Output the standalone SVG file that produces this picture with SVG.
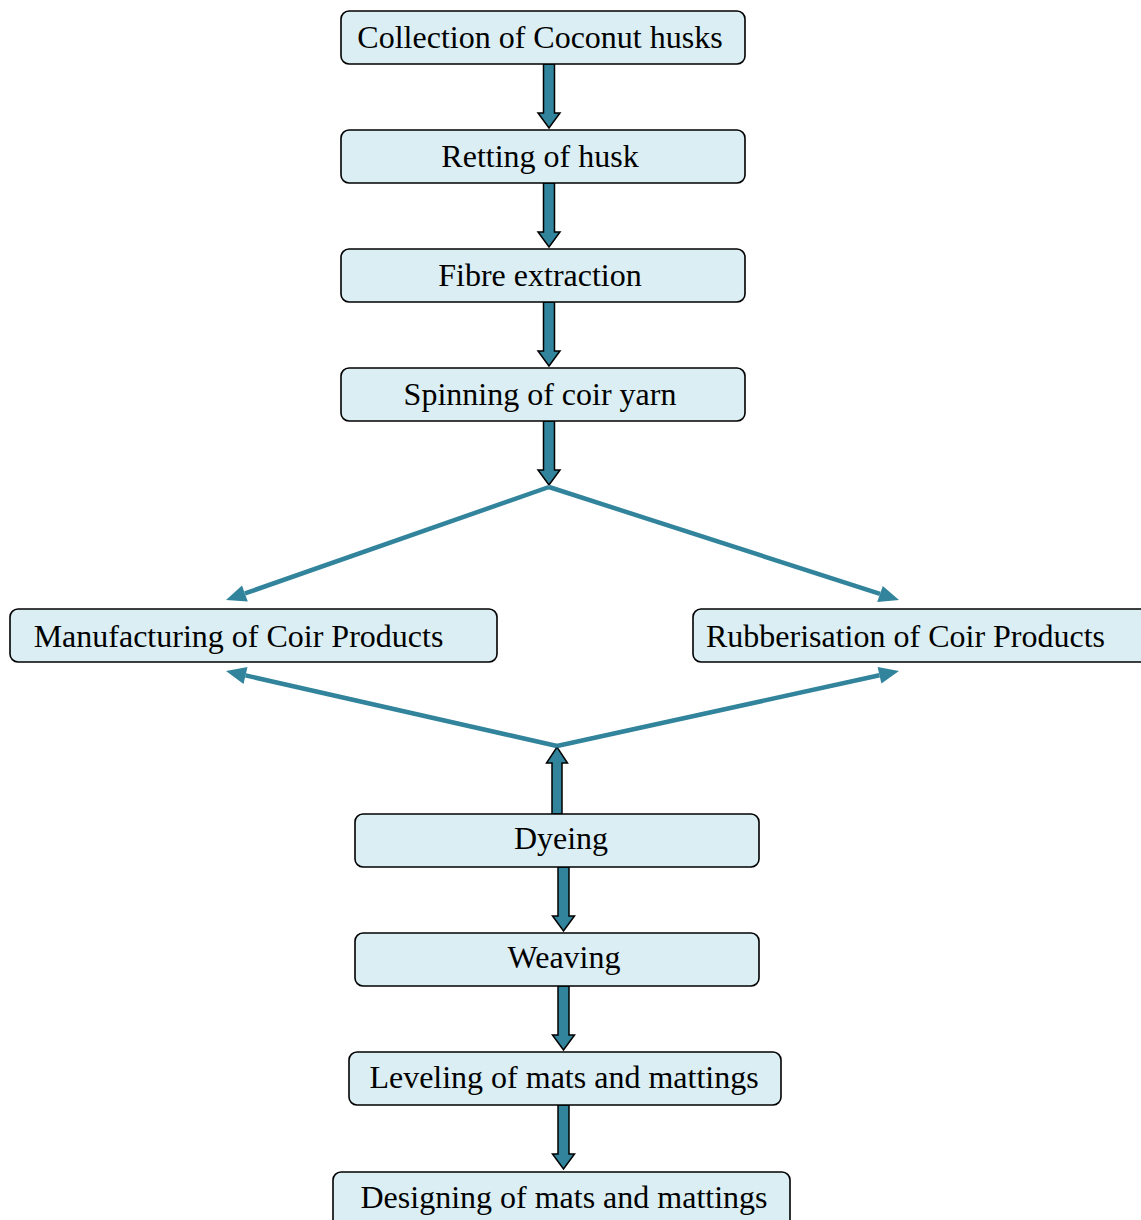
<svg xmlns="http://www.w3.org/2000/svg" width="1141" height="1220" viewBox="0 0 1141 1220">
<style>
.box{fill:#DAEEF3;stroke:#000;stroke-width:1.6}
.t{font-family:"Liberation Serif","Times New Roman",serif;font-size:32px;fill:#000;text-anchor:middle}
.blk{fill:#31849B;stroke:#000;stroke-width:1.5;stroke-linejoin:miter}
.ln{stroke:#31849B;stroke-width:4.5;fill:none}
.hd{fill:#31849B}
</style>
<rect width="1141" height="1220" fill="#fff"/>
<g id="connectors">
<path class="blk" d="M543.5,64 H554.5 V113 H560 L549,128 L538,113 H543.5 Z"/>
<path class="blk" d="M543.5,183 H554.5 V232 H560 L549,247 L538,232 H543.5 Z"/>
<path class="blk" d="M543.5,302 H554.5 V351 H560 L549,366 L538,351 H543.5 Z"/>
<path class="blk" d="M543.5,421 H554.5 V470 H560 L549,485 L538,470 H543.5 Z"/>
<line class="ln" x1="549" y1="487" x2="245" y2="593.4"/>
<polygon class="hd" points="226,600 247.8,601.5 242,585.5"/>
<line class="ln" x1="549" y1="487" x2="880" y2="593.9"/>
<polygon class="hd" points="899,600 877.2,602 882.8,586"/>
<path class="blk" d="M552,814 V763 H546.5 L557,747 L567.5,763 H562 V814 Z"/>
<line class="ln" x1="557" y1="746" x2="245.5" y2="675.4"/>
<polygon class="hd" points="226,671 247.5,667 243.5,684"/>
<line class="ln" x1="557" y1="746" x2="879.5" y2="675.3"/>
<polygon class="hd" points="899,671 881.4,683.6 877.6,667"/>
<path class="blk" d="M558,867 H569 V916 H574.5 L563.5,931 L552.5,916 H558 Z"/>
<path class="blk" d="M558,986 H569 V1035 H574.5 L563.5,1050 L552.5,1035 H558 Z"/>
<path class="blk" d="M558,1105 H569 V1154 H574.5 L563.5,1169 L552.5,1154 H558 Z"/>
</g>
<g id="n1"><rect class="box" x="341" y="11" width="404" height="53" rx="8"/><text class="t" x="540" y="48">Collection of Coconut husks</text></g>
<g id="n2"><rect class="box" x="341" y="130" width="404" height="53" rx="8"/><text class="t" x="540" y="167">Retting of husk</text></g>
<g id="n3"><rect class="box" x="341" y="249" width="404" height="53" rx="8"/><text class="t" x="540" y="286">Fibre extraction</text></g>
<g id="n4"><rect class="box" x="341" y="368" width="404" height="53" rx="8"/><text class="t" x="540" y="405">Spinning of coir yarn</text></g>
<g id="n5"><rect class="box" x="10" y="609" width="487" height="53" rx="8"/><text class="t" x="238.5" y="647">Manufacturing of Coir Products</text></g>
<g id="n6"><rect class="box" x="693" y="609" width="460" height="53" rx="8"/><text class="t" x="905.5" y="647">Rubberisation of Coir Products</text></g>
<g id="n7"><rect class="box" x="355" y="814" width="404" height="53" rx="8"/><text class="t" x="561" y="849">Dyeing</text></g>
<g id="n8"><rect class="box" x="355" y="933" width="404" height="53" rx="8"/><text class="t" x="564" y="968">Weaving</text></g>
<g id="n9"><rect class="box" x="349" y="1052" width="432" height="53" rx="8"/><text class="t" x="564" y="1088">Leveling of mats and mattings</text></g>
<g id="n10"><rect class="box" x="333" y="1172" width="457" height="60" rx="8"/><text class="t" x="564" y="1208">Designing of mats and mattings</text></g>
</svg>
